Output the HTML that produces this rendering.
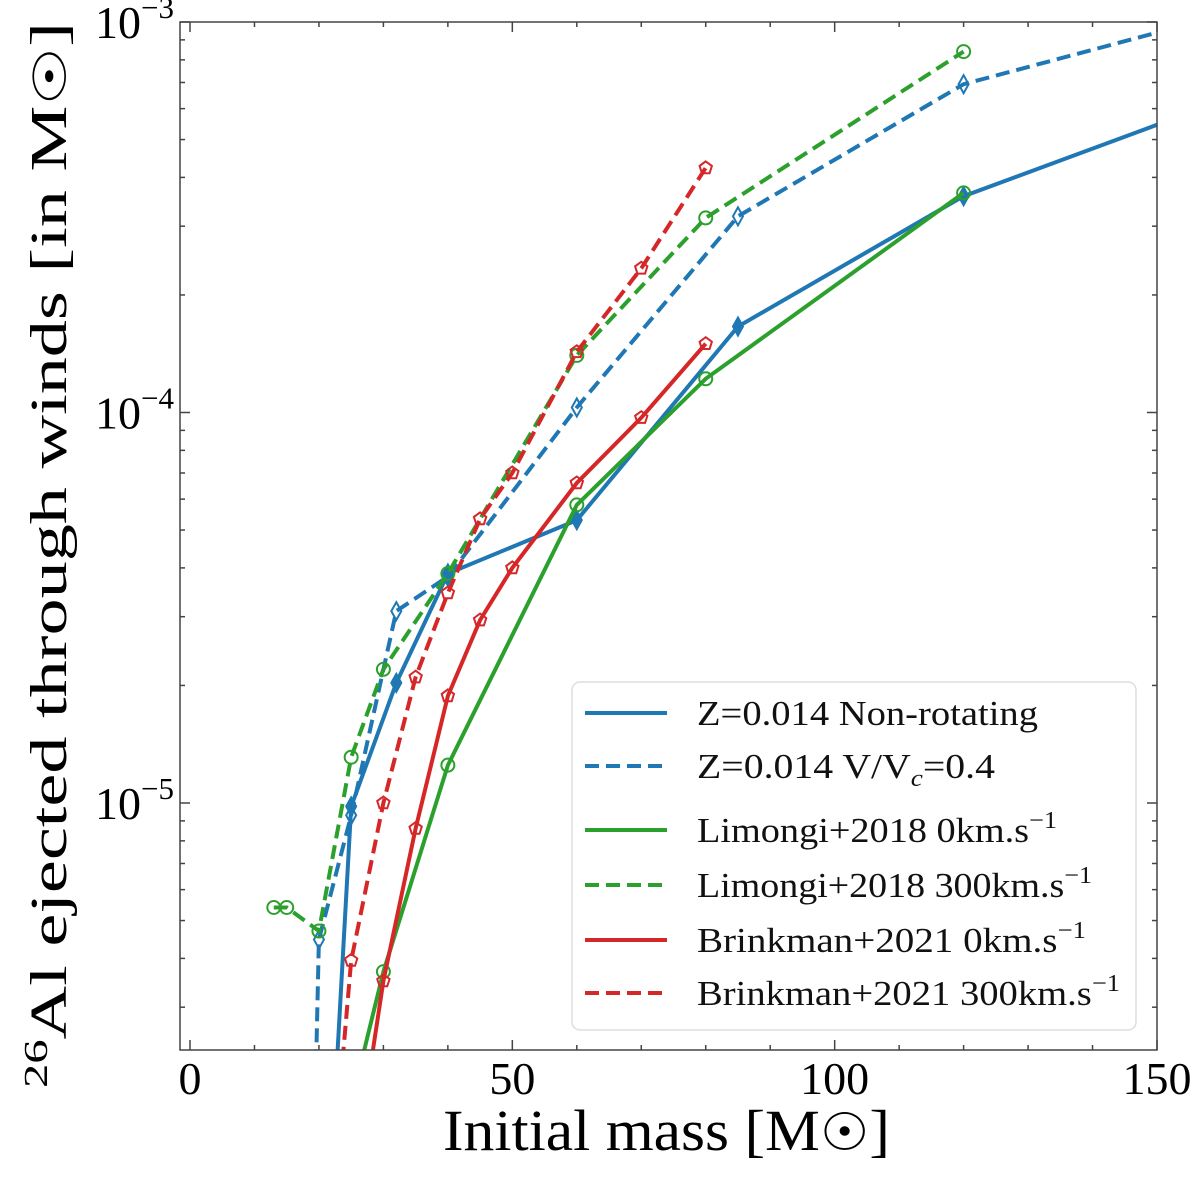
<!DOCTYPE html>
<html><head><meta charset="utf-8"><style>
html,body{margin:0;padding:0;background:#fff;overflow:hidden;width:1200px;height:1178px;}
svg{display:block;font-family:"Liberation Serif","DejaVu Serif",serif;}
</style></head><body>
<svg id="chart" width="1200" height="1178" viewBox="0 0 1200 1178" xmlns="http://www.w3.org/2000/svg">
<defs><clipPath id="clip"><rect x="180" y="22" width="977" height="1028"/></clipPath></defs>
<g id="plot" clip-path="url(#clip)"></g>
<rect x="180" y="22" width="977" height="1028" fill="none" stroke="#444" stroke-width="1.5"/>
<g id="ticks"></g>
<text x="443" y="1150" font-size="58" textLength="447" lengthAdjust="spacingAndGlyphs">Initial mass [M<tspan font-size="52">☉</tspan>]</text>
<text transform="translate(66,1088) rotate(-90)" font-size="52" textLength="1066" lengthAdjust="spacingAndGlyphs"><tspan font-size="34" dy="-19">26</tspan><tspan dy="19">Al ejected through winds [in M</tspan><tspan font-size="46">☉</tspan>]</text>
<g id="legend">
<rect x="572" y="682" width="564" height="348" rx="8" fill="#fff" fill-opacity="0.85" stroke="#ddd" stroke-width="1.5"/>
</g>
</svg>
<script>
const categoriesBlueSolid = [20, 25, 32, 40, 60, 85, 120, 200];
const valuesBlueSolid = [3.2e-7, 9.8e-6, 2.03e-5, 3.87e-5, 5.3e-5, 1.66e-4, 3.58e-4, 1.1e-3];
const categoriesBlueDash = [15, 20, 25, 32, 40, 60, 85, 120, 200];
const valuesBlueDash = [1e-9, 4.47e-6, 9.3e-6, 3.1e-5, 3.8e-5, 1.03e-4, 3.18e-4, 6.93e-4, 1.56e-3];
const categoriesGreenSolid = [25, 30, 40, 60, 80, 120];
const valuesGreenSolid = [1.7e-6, 3.7e-6, 1.25e-5, 5.8e-5, 1.22e-4, 3.65e-4];
const categoriesGreenDash = [13, 15, 20, 25, 30, 40, 60, 80, 120];
const valuesGreenDash = [5.4e-6, 5.4e-6, 4.7e-6, 1.31e-5, 2.2e-5, 3.87e-5, 1.4e-4, 3.15e-4, 8.4e-4];
const categoriesRedSolid = [25, 30, 35, 40, 45, 50, 60, 70, 80];
const valuesRedSolid = [1e-6, 3.5e-6, 8.6e-6, 1.88e-5, 2.94e-5, 4e-5, 6.6e-5, 9.7e-5, 1.5e-4];
const categoriesRedDash = [20, 25, 30, 35, 40, 45, 50, 60, 70, 80];
const valuesRedDash = [4.4e-7, 3.95e-6, 1e-5, 2.1e-5, 3.45e-5, 5.34e-5, 7e-5, 1.43e-4, 2.34e-4, 4.23e-4];
const xTicks = [0, 50, 100, 150];
const legendLabels = ["Z=0.014 Non-rotating", "Z=0.014 V/V<c>=0.4", "Limongi+2018 0km.s<-1>", "Limongi+2018 300km.s<-1>", "Brinkman+2021 0km.s<-1>", "Brinkman+2021 300km.s<-1>"];

const NS = "http://www.w3.org/2000/svg";
const X0 = 190, XS = (1157 - 190) / 150;
const Y3 = 22, DEC = 390.5;
function xs(v){ return X0 + v * XS; }
function ys(v){ return Y3 + (-3 - Math.log10(v)) * DEC; }
function mk(tag, attrs, parent){ const e = document.createElementNS(NS, tag); for (const k in attrs) e.setAttribute(k, attrs[k]); parent.appendChild(e); return e; }

const BLUE = "#1f77b4", GREEN = "#2ca02c", RED = "#d62728";
const series = [
  {cats: categoriesBlueSolid, vals: valuesBlueSolid, color: BLUE, dash: null, marker: "diamond", fill: true, name: "blue-solid"},
  {cats: categoriesBlueDash, vals: valuesBlueDash, color: BLUE, dash: "14 7", marker: "diamond", fill: false, name: "blue-dashed"},
  {cats: categoriesGreenSolid, vals: valuesGreenSolid, color: GREEN, dash: null, marker: "circle", fill: false, name: "green-solid"},
  {cats: categoriesGreenDash, vals: valuesGreenDash, color: GREEN, dash: "14 7", marker: "circle", fill: false, name: "green-dashed"},
  {cats: categoriesRedSolid, vals: valuesRedSolid, color: RED, dash: null, marker: "pentagon", fill: false, name: "red-solid"},
  {cats: categoriesRedDash, vals: valuesRedDash, color: RED, dash: "14 7", marker: "pentagon", fill: false, name: "red-dashed"}
];

function drawMarker(kind, cx, cy, color, fill, parent){
  let e;
  if (kind === "circle") {
    e = mk("circle", {cx: cx, cy: cy, r: 6.5}, parent);
  } else if (kind === "diamond") {
    e = mk("polygon", {points: `${cx},${cy-9} ${cx+5},${cy} ${cx},${cy+9} ${cx-5},${cy}`}, parent);
  } else {
    const pts = [];
    for (let i = 0; i < 5; i++) { const a = -Math.PI/2 + i*2*Math.PI/5; pts.push((cx+6.5*Math.cos(a)).toFixed(1)+","+(cy+6.5*Math.sin(a)).toFixed(1)); }
    e = mk("polygon", {points: pts.join(" ")}, parent);
  }
  e.setAttribute("fill", fill ? color : "none");
  e.setAttribute("stroke", color);
  e.setAttribute("stroke-width", "2");
  return e;
}

const plot = document.getElementById("plot");
series.forEach(s => {
  const d = s.cats.map((c, i) => (i ? "L" : "M") + xs(c).toFixed(1) + "," + ys(s.vals[i]).toFixed(1)).join(" ");
  const p = mk("path", {d: d, fill: "none", stroke: s.color, "stroke-width": 4}, plot);
  if (s.dash) p.setAttribute("stroke-dasharray", s.dash);
  
  
  s.cats.forEach((c, i) => {
    const m = drawMarker(s.marker, xs(c), ys(s.vals[i]), s.color, s.fill, plot);
    
    
  });
});

const tg = document.getElementById("ticks");
const tickStyle = {stroke: "#444", "stroke-width": 1.5};
for (let v = 0; v <= 150; v += 10) {
  const x = xs(v), major = v % 50 === 0, L = major ? 10 : 5;
  mk("line", Object.assign({x1: x, x2: x, y1: 1050, y2: 1050 - L}, tickStyle), tg);
  mk("line", Object.assign({x1: x, x2: x, y1: 22, y2: 22 + L}, tickStyle), tg);
}
xTicks.forEach(v => {
  const t = mk("text", {x: xs(v), y: 1094, "text-anchor": "middle", "font-size": 46}, tg);
  t.textContent = v;
  
  
});
for (let e = -6; e <= -3; e++) {
  for (let m = 1; m <= 9; m++) {
    const v = m * Math.pow(10, e);
    const y = ys(v);
    if (y < 21 || y > 1051) continue;
    const L = m === 1 ? 10 : 5;
    mk("line", Object.assign({x1: 180, x2: 180 + L, y1: y, y2: y}, tickStyle), tg);
    mk("line", Object.assign({x1: 1157, x2: 1157 - L, y1: y, y2: y}, tickStyle), tg);
  }
}
[-3, -4, -5].forEach(e => {
  const y = ys(Math.pow(10, e));
  const t = mk("text", {x: 174, y: y + 16, "text-anchor": "end", "font-size": 46}, tg);
  
  
  const a = mk("tspan", {}, t); a.textContent = "10";
  const b = mk("tspan", {"font-size": 31, dy: -20}, t); b.textContent = "\u2212" + (-e);
});

const lg = document.getElementById("legend");
const rowY = [713, 766, 830, 885, 940, 993];
const legendWidths = [341, 298, 360, 395, 389, 423];
series.forEach((s, i) => {
  const y = rowY[i];
  const l = mk("line", {x1: 585, x2: 667, y1: y, y2: y, stroke: s.color, "stroke-width": 4}, lg);
  if (s.dash) l.setAttribute("stroke-dasharray", "14 7");
  
  
  const t = mk("text", {x: 697, y: y + 12, "font-size": 35, fill: "#111", textLength: legendWidths[i], lengthAdjust: "spacingAndGlyphs"}, lg);
  
  
  const lab = legendLabels[i];
  const mm = lab.match(/^(.*)<(.*)>(.*)$/);
  if (mm) {
    const a = mk("tspan", {}, t); a.textContent = mm[1];
    const sup = mm[2] === "-1";
    const b = mk("tspan", {"font-size": 24, dy: sup ? -14 : 8, "font-style": sup ? "normal" : "italic"}, t); b.textContent = sup ? "\u22121" : mm[2];
    if (mm[3]) { const c = mk("tspan", {dy: sup ? 14 : -8}, t); c.textContent = mm[3]; }
  } else t.textContent = lab;
});
</script>
</body></html>
